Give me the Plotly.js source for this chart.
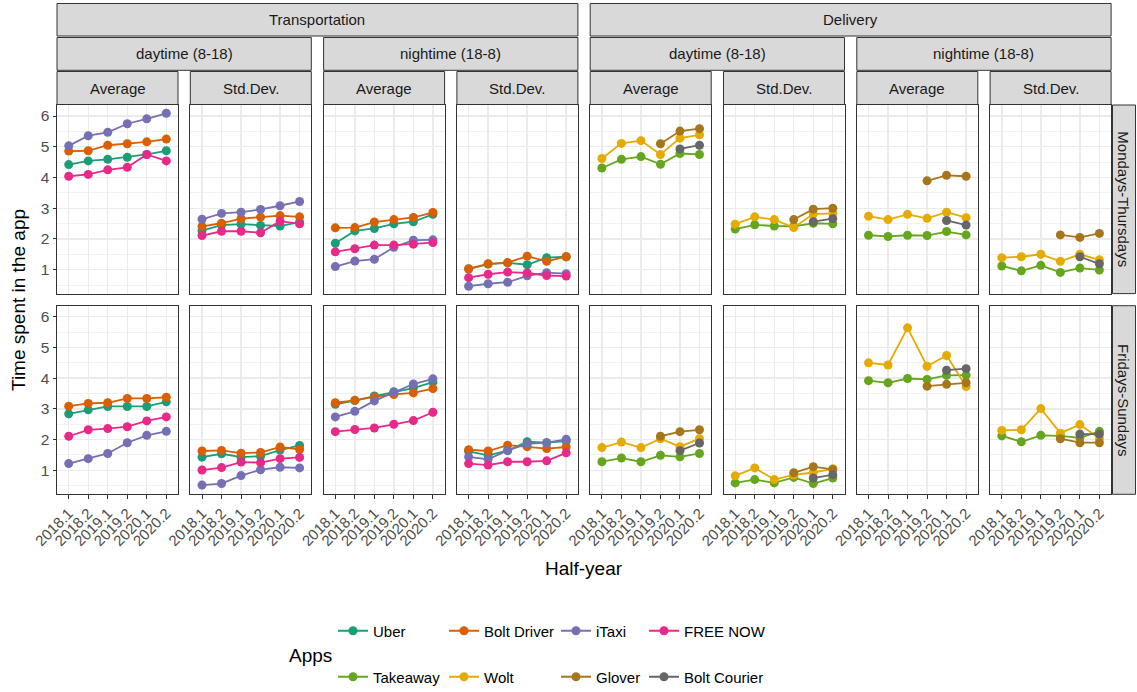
<!DOCTYPE html>
<html>
<head>
<meta charset="utf-8">
<script src="https://cdn.plot.ly/plotly-3.0.1.min.js"></script>
<style>html,body{margin:0;padding:0;background:#fff;}#chart{width:1137px;height:692px;}</style>
</head>
<body>
<div id="chart"></div>
<script>
// ---------------- DATA ----------------
const halfYears = ['2018.1', '2018.2', '2019.1', '2019.2', '2020.1', '2020.2'];
const apps = ['Uber', 'Bolt Driver', 'iTaxi', 'FREE NOW', 'Takeaway', 'Wolt', 'Glover', 'Bolt Courier'];
const appColors = ['#1B9E77', '#D95F02', '#7570B3', '#E7298A', '#66A61E', '#E6AB02', '#A6761D', '#666666'];
const sectors = ['Transportation', 'Delivery'];
const times = ['daytime (8-18)', 'nightime (18-8)'];
const stats = ['Average', 'Std.Dev.'];
const dayGroups = ['Mondays-Thursdays', 'Fridays-Sundays'];
const n = null;

// Mondays-Thursdays panels
const mtTransDayAvg   = {'Uber': [4.42,4.54,4.59,4.66,4.75,4.87], 'Bolt Driver': [4.86,4.87,5.05,5.10,5.16,5.25], 'iTaxi': [5.03,5.36,5.47,5.75,5.91,6.09], 'FREE NOW': [4.04,4.10,4.25,4.33,4.75,4.54]};
const mtTransDaySd    = {'Uber': [2.27,2.45,2.48,2.44,2.42,2.55], 'Bolt Driver': [2.41,2.51,2.66,2.71,2.76,2.72], 'iTaxi': [2.64,2.83,2.87,2.96,3.08,3.22], 'FREE NOW': [2.11,2.25,2.25,2.20,2.58,2.49]};
const mtTransNightAvg = {'Uber': [1.86,2.26,2.34,2.49,2.56,2.80], 'Bolt Driver': [2.36,2.37,2.55,2.63,2.70,2.86], 'iTaxi': [1.10,1.28,1.34,1.73,1.96,1.97], 'FREE NOW': [1.58,1.68,1.80,1.80,1.83,1.88]};
const mtTransNightSd  = {'Uber': [1.02,1.18,1.22,1.16,1.39,1.42], 'Bolt Driver': [1.03,1.19,1.23,1.44,1.27,1.42], 'iTaxi': [0.46,0.54,0.59,0.80,0.90,0.87], 'FREE NOW': [0.74,0.85,0.92,0.89,0.81,0.79]};
const mtDelDayAvg     = {'Takeaway': [4.31,4.59,4.68,4.43,4.78,4.75], 'Wolt': [4.62,5.11,5.20,4.75,5.28,5.39], 'Glover': [n,n,n,5.10,5.51,5.59], 'Bolt Courier': [n,n,n,n,4.93,5.05]};
const mtDelDaySd      = {'Takeaway': [2.32,2.46,2.42,2.41,2.51,2.49], 'Wolt': [2.48,2.72,2.63,2.37,2.81,2.83], 'Glover': [n,n,n,2.63,2.97,3.00], 'Bolt Courier': [n,n,n,n,2.56,2.66]};
const mtDelNightAvg   = {'Takeaway': [2.12,2.08,2.12,2.11,2.24,2.13], 'Wolt': [2.74,2.63,2.80,2.67,2.87,2.69], 'Glover': [n,n,n,3.89,4.07,4.04], 'Bolt Courier': [n,n,n,n,2.60,2.45]};
const mtDelNightSd    = {'Takeaway': [1.12,0.96,1.14,0.91,1.05,0.99], 'Wolt': [1.39,1.42,1.50,1.27,1.50,1.32], 'Glover': [n,n,n,2.13,2.05,2.18], 'Bolt Courier': [n,n,n,n,1.42,1.19]};

// Fridays-Sundays panels
const fsTransDayAvg   = {'Uber': [2.84,2.97,3.08,3.08,3.08,3.23], 'Bolt Driver': [3.09,3.18,3.20,3.34,3.34,3.38], 'iTaxi': [1.22,1.38,1.55,1.90,2.14,2.27], 'FREE NOW': [2.11,2.32,2.36,2.42,2.61,2.74]};
const fsTransDaySd    = {'Uber': [1.43,1.54,1.43,1.46,1.66,1.81], 'Bolt Driver': [1.63,1.65,1.56,1.58,1.76,1.68], 'iTaxi': [0.52,0.57,0.83,1.02,1.10,1.08], 'FREE NOW': [1.01,1.09,1.27,1.25,1.38,1.42]};
const fsTransNightAvg = {'Uber': [3.15,3.27,3.42,3.56,3.68,3.87], 'Bolt Driver': [3.20,3.28,3.39,3.47,3.52,3.66], 'iTaxi': [2.74,2.92,3.26,3.54,3.81,3.98], 'FREE NOW': [2.26,2.33,2.38,2.50,2.62,2.89]};
const fsTransNightSd  = {'Uber': [1.62,1.49,1.64,1.93,1.90,1.95], 'Bolt Driver': [1.67,1.63,1.82,1.77,1.71,1.76], 'iTaxi': [1.44,1.36,1.65,1.86,1.90,2.01], 'FREE NOW': [1.22,1.17,1.28,1.28,1.31,1.57]};
const fsDelDayAvg     = {'Takeaway': [1.28,1.40,1.28,1.49,1.44,1.55], 'Wolt': [1.74,1.92,1.74,2.03,1.77,2.03], 'Glover': [n,n,n,2.11,2.26,2.32], 'Bolt Courier': [n,n,n,n,1.64,1.89]};
const fsDelDaySd      = {'Takeaway': [0.59,0.70,0.59,0.77,0.57,0.75], 'Wolt': [0.82,1.08,0.70,0.85,0.93,1.05], 'Glover': [n,n,n,0.92,1.12,1.03], 'Bolt Courier': [n,n,n,n,0.75,0.86]};
const fsDelNightAvg   = {'Takeaway': [3.92,3.85,3.99,3.96,4.09,4.10], 'Wolt': [4.50,4.43,5.64,4.39,4.74,3.73], 'Glover': [n,n,n,3.74,3.80,3.85], 'Bolt Courier': [n,n,n,n,4.26,4.31]};
const fsDelNightSd    = {'Takeaway': [2.12,1.93,2.14,2.12,2.06,2.27], 'Wolt': [2.30,2.32,3.01,2.21,2.49,2.04], 'Glover': [n,n,n,2.03,1.90,1.90], 'Bolt Courier': [n,n,n,n,2.18,2.18]};

const panelRows = [
  [mtTransDayAvg, mtTransDaySd, mtTransNightAvg, mtTransNightSd, mtDelDayAvg, mtDelDaySd, mtDelNightAvg, mtDelNightSd],
  [fsTransDayAvg, fsTransDaySd, fsTransNightAvg, fsTransNightSd, fsDelDayAvg, fsDelDaySd, fsDelNightAvg, fsDelNightSd]
];

// ---------------- LAYOUT GEOMETRY ----------------
const W = 1137, H = 692;
const FONT = 'Liberation Sans, Arial, Helvetica, sans-serif';
const px = x => x / W;
const py = y => 1 - y / H;
const colLeft = c => 57 + c * 133.3;
const PW = 121;
const rowTop = [105, 305.7];
const PH = 188.6;

const traces = [];
const layout = {
  width: W, height: H,
  margin: {l: 0, r: 0, t: 0, b: 0, autoexpand: false},
  paper_bgcolor: '#ffffff', plot_bgcolor: '#ffffff',
  font: {family: FONT, size: 15, color: '#000000'},
  shapes: [], annotations: []
};

const legendSeen = {};
for (let r = 0; r < 2; r++) {
  for (let c = 0; c < 8; c++) {
    const k = r * 8 + c + 1;
    const xa = 'xaxis' + (k === 1 ? '' : k), ya = 'yaxis' + (k === 1 ? '' : k);
    const xr = 'x' + (k === 1 ? '' : k), yr = 'y' + (k === 1 ? '' : k);
    layout[xa] = {
      domain: [px(colLeft(c)), px(colLeft(c) + PW)],
      anchor: yr, type: 'category', categoryorder: 'array', categoryarray: halfYears,
      range: [-0.6, 5.6],
      showgrid: true, gridcolor: '#EBEBEB', gridwidth: 1.4,
      showline: true, mirror: true, linecolor: '#333333', linewidth: 1, zeroline: false,
      ticks: r === 1 ? 'outside' : '', ticklen: 3.5, tickwidth: 1, tickcolor: '#333333',
      showticklabels: r === 1, tickangle: -45,
      tickfont: {family: FONT, size: 15, color: '#4D4D4D'},
      fixedrange: true
    };
    layout[ya] = {
      domain: [py(rowTop[r] + PH), py(rowTop[r])],
      anchor: xr, range: [0.22, 6.36],
      tickmode: 'array', tickvals: [1, 2, 3, 4, 5, 6],
      showgrid: true, gridcolor: '#EBEBEB', gridwidth: 1.4,
      minor: {tickmode: 'array', tickvals: [0.5, 1.5, 2.5, 3.5, 4.5, 5.5], showgrid: true, gridcolor: '#EBEBEB', gridwidth: 0.7, ticks: ''},
      showline: true, mirror: true, linecolor: '#333333', linewidth: 1, zeroline: false,
      ticks: c === 0 ? 'outside' : '', ticklen: 3.5, tickwidth: 1, tickcolor: '#333333',
      showticklabels: c === 0,
      tickfont: {family: FONT, size: 15.5, color: '#4D4D4D'},
      fixedrange: true
    };
    const panel = panelRows[r][c];
    apps.forEach((app, ai) => {
      if (!panel[app]) return;
      const li = ai === 0 ? 'legend' : 'legend' + (ai + 1);
      const show = !legendSeen[app];
      legendSeen[app] = true;
      traces.push({
        type: 'scatter', mode: 'lines+markers',
        x: halfYears, y: panel[app], xaxis: xr, yaxis: yr,
        name: app, legendgroup: app, showlegend: show, legend: li,
        line: {color: appColors[ai], width: 1.8},
        marker: {color: appColors[ai], size: 9, line: {width: 0}},
        connectgaps: false, hoverinfo: 'skip'
      });
    });
  }
}

// ---------------- LEGENDS (one per app, ggplot-like 2x4 grid) ----------------
const legMarkX = [350, 461, 573, 661];
const legRowY = [631, 677];
apps.forEach((app, ai) => {
  const key = ai === 0 ? 'legend' : 'legend' + (ai + 1);
  const row = ai < 4 ? 0 : 1, col = ai % 4;
  layout[key] = {
    x: px(legMarkX[col] - 17), xanchor: 'left',
    y: py(legRowY[row]), yanchor: 'middle',
    orientation: 'h', bgcolor: 'rgba(0,0,0,0)', borderwidth: 0,
    font: {family: FONT, size: 15, color: '#000000'},
    itemwidth: 30, itemclick: false, itemdoubleclick: false
  };
});

// ---------------- STRIPS ----------------
function strip(x0, x1, y0, y1, text, angle) {
  layout.shapes.push({type: 'rect', xref: 'paper', yref: 'paper', x0: px(x0), x1: px(x1), y0: py(y1), y1: py(y0),
    fillcolor: '#D9D9D9', line: {color: '#333333', width: 1}, layer: 'above'});
  layout.annotations.push({xref: 'paper', yref: 'paper', x: px((x0 + x1) / 2), y: py((y0 + y1) / 2),
    text: text, showarrow: false, xanchor: 'center', yanchor: 'middle', textangle: angle || 0,
    font: {family: FONT, size: 15, color: '#1A1A1A'}});
}
const L1 = [3.5, 36], L2 = [37.5, 70.3], L3 = [71.5, 104.5];
sectors.forEach((s, si) => strip(colLeft(si * 4), colLeft(si * 4 + 3) + PW, L1[0], L1[1], s));
for (let g = 0; g < 4; g++) strip(colLeft(g * 2), colLeft(g * 2 + 1) + PW, L2[0], L2[1], times[g % 2]);
for (let c = 0; c < 8; c++) strip(colLeft(c), colLeft(c) + PW, L3[0], L3[1], stats[c % 2]);
dayGroups.forEach((d, r) => strip(1112.5, 1135.5, rowTop[r], rowTop[r] + PH, d, 90));

// ---------------- AXIS TITLES & LEGEND TITLE ----------------
layout.annotations.push({xref: 'paper', yref: 'paper', x: px(584), y: py(568), text: 'Half-year', showarrow: false,
  xanchor: 'center', yanchor: 'middle', font: {family: FONT, size: 19, color: '#000000'}});
layout.annotations.push({xref: 'paper', yref: 'paper', x: px(19), y: py(300), text: 'Time spent in the app', showarrow: false,
  xanchor: 'center', yanchor: 'middle', textangle: -90, font: {family: FONT, size: 19, color: '#000000'}});
layout.annotations.push({xref: 'paper', yref: 'paper', x: px(287), y: py(655), text: 'Apps', showarrow: false,
  xanchor: 'left', yanchor: 'middle', font: {family: FONT, size: 19, color: '#000000'}});

Plotly.newPlot('chart', traces, layout, {displayModeBar: false, staticPlot: true});
</script>
</body>
</html>
